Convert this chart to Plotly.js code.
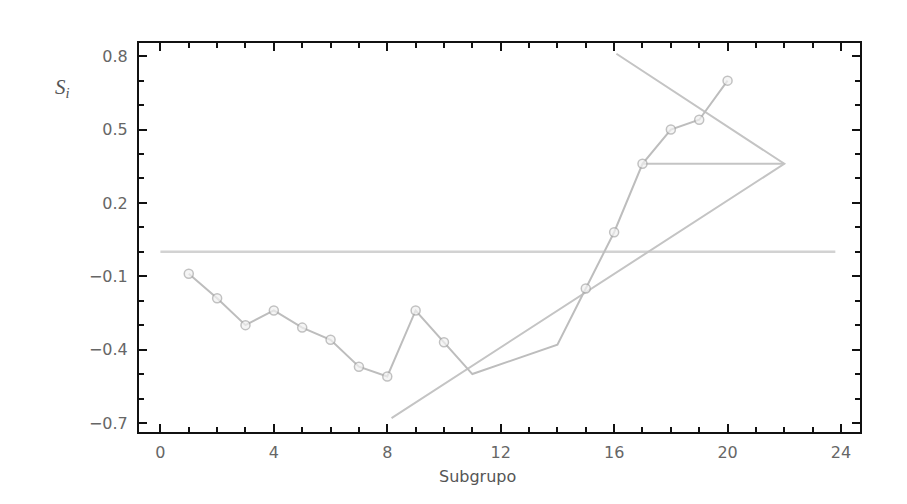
<!DOCTYPE html>
<html>
<head>
<meta charset="utf-8">
<script src="https://cdn.plot.ly/plotly-3.0.1.min.js"></script>
<style>html,body{margin:0;padding:0;background:#fff;}#chart{width:907px;height:504px;}</style>
</head>
<body>
<div id="chart"></div>
<script>
// Subgroup series
const subgrupo = [1, 2, 3, 4, 5, 6, 7, 8, 9, 10, 11, 14, 15, 16, 17, 18, 19, 20];
const si = [-0.09, -0.19, -0.30, -0.24, -0.31, -0.36, -0.47, -0.51, -0.24, -0.37, -0.50, -0.38, -0.15, 0.08, 0.36, 0.50, 0.54, 0.70];
const hasMarker = [1, 1, 1, 1, 1, 1, 1, 1, 1, 1, 0, 0, 1, 1, 1, 1, 1, 1];
// Reference (zero) line
const zeroX = [0, 23.8];
const zeroY = [0, 0];
// Construction lines
const triX = [16.08, 22, 8.15];
const triY = [0.81, 0.36, -0.68];
const horizX = [17, 22];
const horizY = [0.36, 0.36];

const gray = '#c4c4c4';
const traces = [
  {x: zeroX, y: zeroY, mode: 'lines', line: {color: '#d2d2d2', width: 2.5}, hoverinfo: 'skip'},
  {x: triX, y: triY, mode: 'lines', line: {color: gray, width: 2}, hoverinfo: 'skip'},
  {x: horizX, y: horizY, mode: 'lines', line: {color: gray, width: 2}, hoverinfo: 'skip'},
  {x: subgrupo, y: si, mode: 'lines+markers',
   line: {color: '#bdbdbd', width: 2},
   marker: {symbol: 'circle', size: hasMarker.map(m => m ? 9 : 0), color: '#f2f2f2',
            line: {color: '#a8a8a8', width: 1.5}}}
];

const axisCommon = {
  showgrid: false, zeroline: false, showline: true, linecolor: '#111', linewidth: 2,
  mirror: 'allticks', ticks: 'inside', ticklen: 8, tickwidth: 2, tickcolor: '#111',
  tickfont: {family: 'DejaVu Sans, sans-serif', size: 16, color: '#666'}
};

const layout = {
  width: 907, height: 504,
  margin: {l: 139, r: 47, t: 43, b: 72},
  paper_bgcolor: '#fff', plot_bgcolor: '#fff',
  showlegend: false,
  xaxis: Object.assign({}, axisCommon, {
    range: [-0.755, 24.67], tickmode: 'linear', tick0: 0, dtick: 4, ticklabelstandoff: 5,
    minor: {dtick: 1, ticks: 'inside', ticklen: 5, tickwidth: 2, tickcolor: '#111', showgrid: false}
  }),
  yaxis: Object.assign({}, axisCommon, {
    range: [-0.737, 0.854], tickmode: 'linear', tick0: -0.7, dtick: 0.3, tickformat: '.1f',
    ticklabelstandoff: 6,
    minor: {dtick: 0.1, tick0: -0.7, ticks: 'inside', ticklen: 5, tickwidth: 2, tickcolor: '#111', showgrid: false}
  }),
  annotations: [
    {text: 'Subgrupo', xref: 'paper', yref: 'paper', x: 0.47, y: (432 - 476) / 389, showarrow: false,
     xanchor: 'center', yanchor: 'middle',
     font: {family: 'DejaVu Sans, sans-serif', size: 16, color: '#555'}},
    {text: '<i>S<sub>i</sub></i>', xref: 'paper', yref: 'paper', x: (62 - 139) / 721, y: (432 - 88) / 389,
     showarrow: false, xanchor: 'center', yanchor: 'middle',
     font: {family: 'Liberation Serif, serif', size: 21, color: '#555'}}
  ]
};

Plotly.newPlot('chart', traces, layout, {staticPlot: true, displayModeBar: false});
</script>
</body>
</html>
